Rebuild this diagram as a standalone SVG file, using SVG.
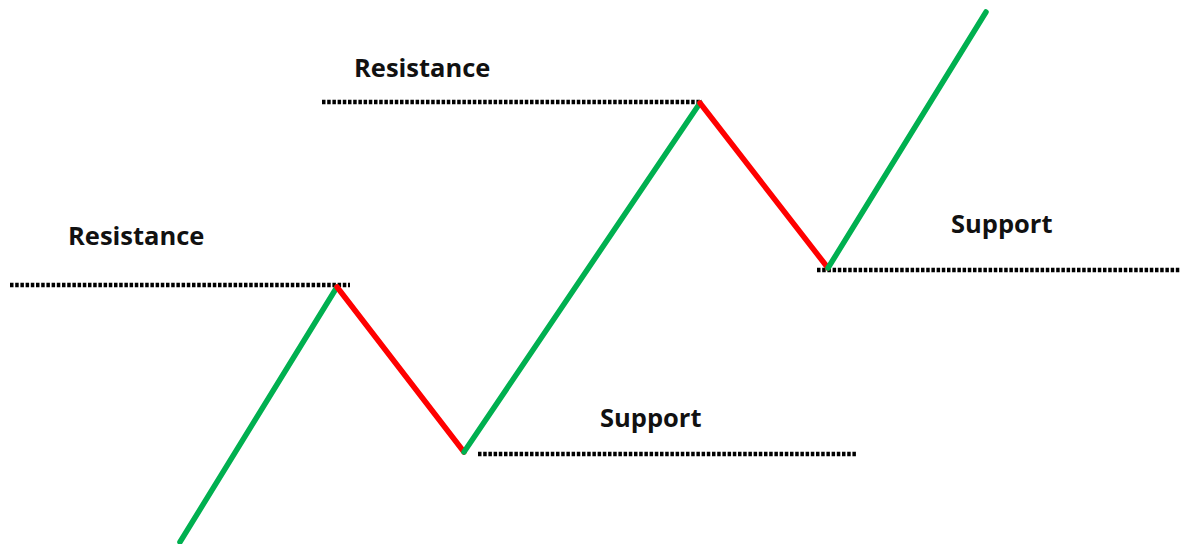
<svg xmlns="http://www.w3.org/2000/svg" width="1183" height="544" viewBox="0 0 1183 544">
<style>
.lvl{stroke:#000;stroke-width:4.5;stroke-dasharray:3.5 1.7;fill:none}
.up{stroke:#00b050;stroke-width:5.5;fill:none;stroke-linecap:round}
.dn{stroke:#ff0000;stroke-width:5.5;fill:none;stroke-linecap:round}
.lbl{font-family:"Open Sans","Noto Sans",sans-serif;font-weight:bold;font-size:25.5px;fill:#111}
</style>
<rect width="1183" height="544" fill="#fff"/>
<g id="levels">
<line class="lvl" x1="10" y1="285" x2="350" y2="285"/>
<line class="lvl" x1="322" y1="102" x2="702" y2="102"/>
<line class="lvl" x1="817" y1="270" x2="1181" y2="270"/>
<line class="lvl" x1="478" y1="454" x2="857" y2="454"/>
</g>
<g id="price">
<line class="up" x1="180" y1="542" x2="337" y2="287"/>
<line class="dn" x1="337" y1="287" x2="464" y2="452"/>
<line class="up" x1="464" y1="452" x2="700" y2="103"/>
<line class="dn" x1="700" y1="103" x2="828" y2="268"/>
<line class="up" x1="828" y1="268" x2="986" y2="12"/>
</g>
<g id="labels">
<text class="lbl" x="68" y="245">Resistance</text>
<text class="lbl" x="354" y="77">Resistance</text>
<text class="lbl" x="951" y="233">Support</text>
<text class="lbl" x="600" y="427">Support</text>
</g>
</svg>
